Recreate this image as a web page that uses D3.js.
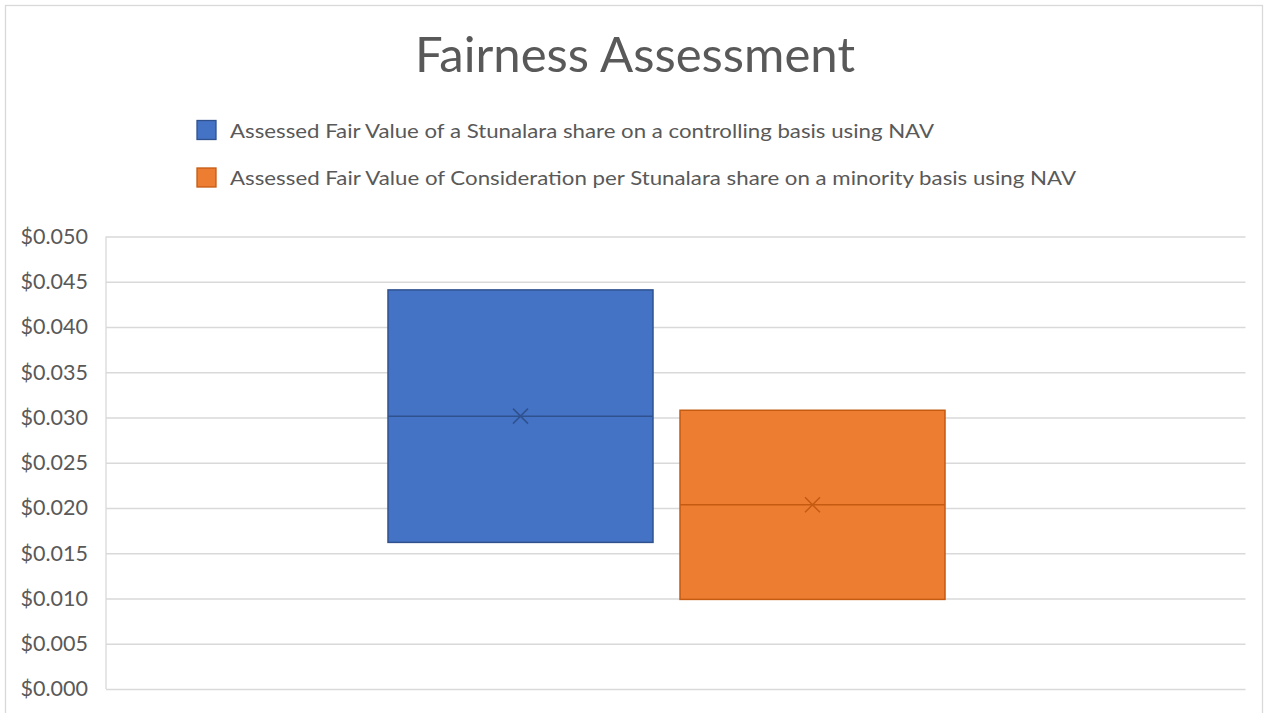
<!DOCTYPE html>
<html>
<head>
<meta charset="utf-8">
<script src="https://cdn.jsdelivr.net/npm/d3@7"></script>
<style>
  html, body { margin: 0; padding: 0; background: #fff; }
  svg { display: block; }
</style>
</head>
<body>
<svg id="chart" width="1267" height="713"></svg>
<script>
// ---- Data ----
const seriesNames = [
  "Assessed Fair Value of a Stunalara share on a controlling basis using NAV",
  "Assessed Fair Value of Consideration per Stunalara share on a minority basis using NAV"
];
const boxLow    = [0.0162, 0.0099];
const boxHigh   = [0.0441, 0.0308];
const boxMedian = [0.03015, 0.02035];
const boxMean   = [0.03015, 0.02035];
const yTicks = [0, 0.005, 0.01, 0.015, 0.02, 0.025, 0.03, 0.035, 0.04, 0.045, 0.05];
const titleText = "Fairness Assessment";

// ---- Styles ----
const fills   = ["#4472c4", "#ed7d31"];
const strokes = ["#2f528f", "#c55a11"];
const textColor = "#595959";
const gridColor = "#d9d9d9";

const svg = d3.select("#chart");

// chart border
svg.append("rect")
  .attr("x", 5.5).attr("y", 5.5)
  .attr("width", 1257).attr("height", 720)
  .attr("fill", "#fff")
  .attr("stroke", gridColor).attr("stroke-width", 1.3);

const plot = { left: 106, right: 1245.5, top: 236.5, bottom: 689 };

const y = d3.scaleLinear().domain([0, 0.05]).range([plot.bottom, plot.top]);
const x = d3.scaleBand().domain(seriesNames).range([388, 945]).paddingInner(0.0925);

// title
svg.append("text")
  .attr("x", 635).attr("y", 72)
  .attr("text-anchor", "middle")
  .attr("font-family", "Lato, 'Open Sans', sans-serif")
  .attr("font-size", 48)
  .attr("fill", textColor)
  .attr("textLength", 440)
  .attr("lengthAdjust", "spacingAndGlyphs")
  .text(titleText);

// legend
const legendY = [120.5, 168];
const legendW = [704, 846];
const lg = svg.append("g");
seriesNames.forEach((name, i) => {
  lg.append("rect")
    .attr("x", 197).attr("y", legendY[i])
    .attr("width", 19).attr("height", 19)
    .attr("fill", fills[i]).attr("stroke", strokes[i]).attr("stroke-width", 1.3);
  lg.append("text")
    .attr("x", 230).attr("y", legendY[i] + 17.3)
    .attr("font-family", "Lato, 'Open Sans', sans-serif")
    .attr("font-size", 20)
    .attr("fill", textColor)
    .attr("textLength", legendW[i])
    .attr("lengthAdjust", "spacingAndGlyphs")
    .text(name);
});

// y axis with gridlines
const yAxis = d3.axisLeft(y)
  .tickValues(yTicks)
  .tickSize(-(plot.right - plot.left))
  .tickPadding(18)
  .tickFormat(d => "$" + d3.format(".3f")(d));

const ag = svg.append("g")
  .attr("transform", `translate(${plot.left},0)`)
  .call(yAxis);
ag.select(".domain").remove();
ag.selectAll(".tick line").attr("stroke", gridColor).attr("stroke-width", 1.3);
ag.selectAll(".tick text")
  .attr("fill", textColor)
  .attr("font-family", "Lato, 'Open Sans', sans-serif")
  .attr("font-size", 21.5);

// vertical axis line
svg.append("line")
  .attr("x1", plot.left).attr("x2", plot.left)
  .attr("y1", y(0.05)).attr("y2", y(0))
  .attr("stroke", gridColor).attr("stroke-width", 1.3);

// boxes
const boxes = svg.append("g");
seriesNames.forEach((name, i) => {
  const x0 = x(name), w = x.bandwidth();
  boxes.append("rect")
    .attr("x", x0).attr("y", y(boxHigh[i]))
    .attr("width", w).attr("height", y(boxLow[i]) - y(boxHigh[i]))
    .attr("fill", fills[i]).attr("stroke", strokes[i]).attr("stroke-width", 1.5);
  boxes.append("line")
    .attr("x1", x0).attr("x2", x0 + w)
    .attr("y1", y(boxMedian[i])).attr("y2", y(boxMedian[i]))
    .attr("stroke", strokes[i]).attr("stroke-width", 1.5);
  const cx = x0 + w / 2, cy = y(boxMean[i]), s = 7.5;
  boxes.append("path")
    .attr("d", `M${cx - s},${cy - s}L${cx + s},${cy + s}M${cx - s},${cy + s}L${cx + s},${cy - s}`)
    .attr("stroke", strokes[i]).attr("stroke-width", 1.5).attr("fill", "none");
});
</script>
</body>
</html>
